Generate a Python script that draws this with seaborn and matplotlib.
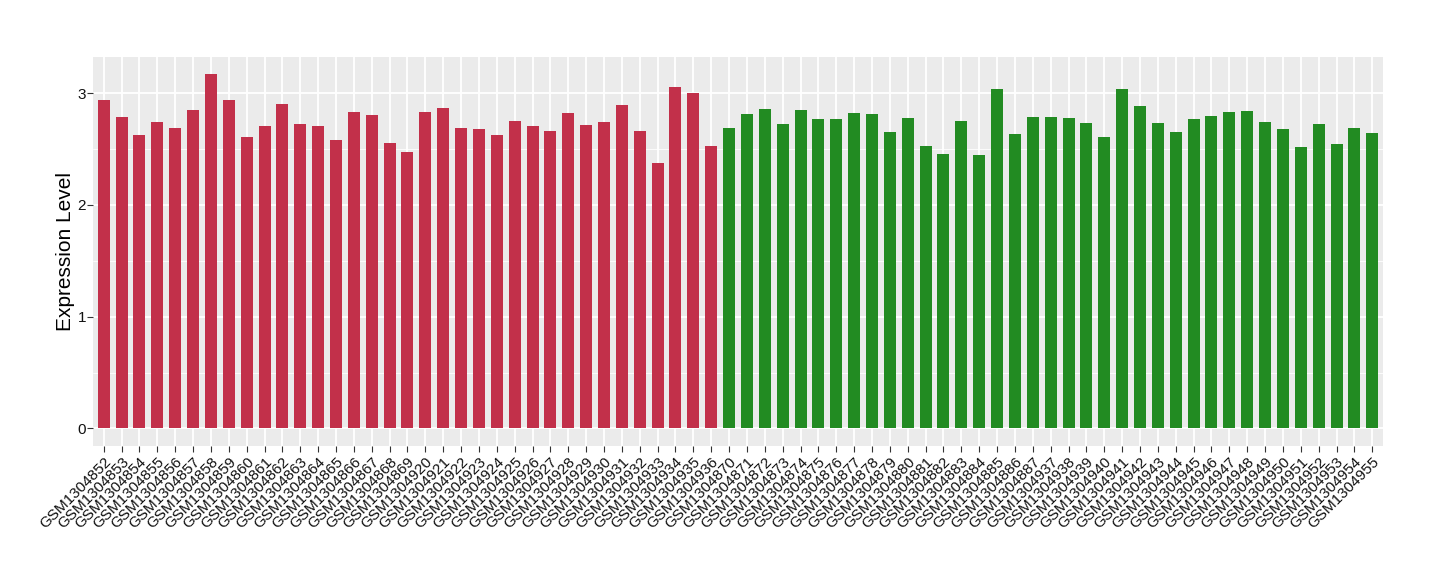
import matplotlib
matplotlib.use("Agg")
import matplotlib.pyplot as plt
import numpy as np
import pandas as pd
import seaborn as sns
from matplotlib.ticker import MultipleLocator

# ── Data ──────────────────────────────────────────────────────────────────────
red_ids = [f"GSM{n}" for n in list(range(1304852, 1304870)) + list(range(1304920, 1304937))]
red_vals = [2.943, 2.79, 2.628, 2.745, 2.69, 2.853, 3.168, 2.943, 2.61, 2.71,
            2.907, 2.728, 2.71, 2.583, 2.835, 2.808, 2.556, 2.475,
            2.835, 2.871, 2.69, 2.682, 2.628, 2.754, 2.71, 2.665, 2.826, 2.719,
            2.745, 2.898, 2.665, 2.377, 3.06, 3.006, 2.53]

green_ids = [f"GSM{n}" for n in list(range(1304870, 1304888)) + list(range(1304937, 1304956))]
green_vals = [2.69, 2.817, 2.862, 2.728, 2.853, 2.772, 2.772, 2.826, 2.817, 2.656,
              2.781, 2.53, 2.458, 2.754, 2.449, 3.042, 2.638, 2.79,
              2.79, 2.781, 2.736, 2.61, 3.042, 2.889, 2.736, 2.656, 2.772, 2.799,
              2.835, 2.844, 2.745, 2.682, 2.521, 2.728, 2.548, 2.69, 2.647]

df = pd.DataFrame({
    "sample": red_ids + green_ids,
    "value": red_vals + green_vals,
    "group": ["A"] * len(red_ids) + ["B"] * len(green_ids),
})

# ── Plot ──────────────────────────────────────────────────────────────────────
sns.set_theme(style="darkgrid")
plt.rcParams["font.family"] = ["Liberation Sans", "DejaVu Sans"]

fig = plt.figure(figsize=(14.4, 5.8), dpi=100)
ax = fig.add_axes([0.0646, 0.231, 0.8958, 0.671])
ax.set_facecolor("#EBEBEB")

sns.barplot(data=df, x="sample", y="value", hue="group",
            palette={"A": "#C2304A", "B": "#228B22"},
            width=0.67, dodge=False, legend=False, saturation=1,
            linewidth=0, ax=ax)

ax.set_xlim(-0.6, len(df) - 0.4)
ax.set_ylim(-0.158, 3.326)
ax.yaxis.set_major_locator(MultipleLocator(1))
ax.yaxis.set_minor_locator(MultipleLocator(0.5))
ax.grid(which="major", color="white", linewidth=1.3)
ax.grid(which="minor", axis="y", color="white", linewidth=0.6)
ax.set_axisbelow(True)
for s in ax.spines.values():
    s.set_visible(False)

ax.tick_params(axis="both", which="major", bottom=True, left=True,
               length=4, width=0.8, color="#333333",
               labelsize=11, labelcolor="#111111", pad=2)
ax.tick_params(axis="y", which="major", pad=1)
ax.tick_params(axis="both", which="minor", length=0)
plt.setp(ax.get_xticklabels(), rotation=45, ha="right", rotation_mode="anchor")

ax.set_xlabel("")
ax.set_ylabel("Expression Level", fontsize=15, labelpad=2, color="black")

plt.savefig("out.png", dpi=100)
plt.close()
